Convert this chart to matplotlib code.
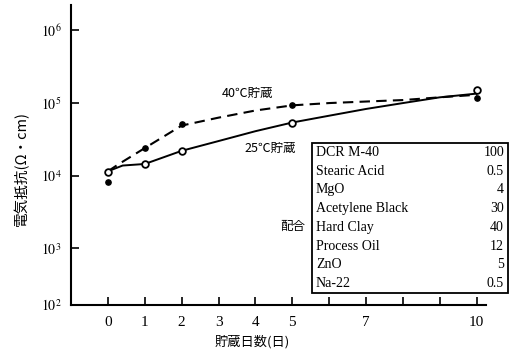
import numpy as np
import matplotlib.pyplot as plt
from matplotlib.patches import Rectangle

plt.rcParams['font.family'] = ['Liberation Serif', 'Noto Sans CJK JP']
plt.rcParams['mathtext.fontset'] = 'stix'

# measured volume resistivity (ohm*cm) vs storage days
days = [0, 1, 2, 5, 10]
rho_25 = [1.13e4, 1.45e4, 2.2e4, 5.4e4, 1.5e5]
rho_40 = [8.3e3, 2.4e4, 5.1e4, 9.3e4, 1.17e5]

# hand-drawn trend curves
trend_25_x = [0, 0.4, 1, 2, 3, 4, 5, 6, 7, 8, 9, 10]
trend_25_y = [1.15e4, 1.38e4, 1.45e4, 2.2e4, 3.0e4, 4.1e4, 5.4e4, 6.7e4, 8.3e4, 1.0e5, 1.2e5, 1.35e5]
trend_40_x = [0, 0.3, 1, 2, 3, 4, 5, 6, 7, 8, 9, 10]
trend_40_y = [1.15e4, 1.45e4, 2.4e4, 4.9e4, 6.3e4, 7.9e4, 9.3e4, 1.0e5, 1.05e5, 1.1e5, 1.2e5, 1.3e5]

# recipe (phr)
recipe_names = ['DCR M-40', 'Stearic Acid', 'MgO', 'Acetylene Black',
                'Hard Clay', 'Process Oil', 'ZnO', 'Na-22']
recipe_parts = ['100', '0.5', '4', '30', '40', '12', '5', '0.5']

x_ticks = list(range(11))
x_labels = ['0', '1', '2', '3', '4', '5', '', '7', '', '', '10']
y_ticks = [1e2, 1e3, 1e4, 1e5, 1e6]
y_labels = [r'$10^{2}$', r'$10^{3}$', r'$10^{4}$', r'$10^{5}$', r'$10^{6}$']


# log scale with the lowest decade drawn compressed, as on the printed graph
def fwd(y):
    ly = np.log10(np.clip(y, 1e-300, None))
    return np.where(ly >= 3, ly, 3 - (3 - ly) * 0.78)


def inv(t):
    t = np.asarray(t, dtype=float)
    return np.where(t >= 3, 10.0 ** t, 10.0 ** (3 - (3 - t) / 0.78))


fig = plt.figure(figsize=(5.13, 3.56), dpi=100)
ax = fig.add_axes([71 / 513, 51 / 356, 415 / 513, 300 / 356])

ax.plot(trend_25_x, trend_25_y, color='black', lw=1.4, zorder=2)
ax.plot(trend_40_x, trend_40_y, color='black', lw=1.5, ls=(0, (5, 3)), zorder=2)
ax.plot(days, rho_25, 'o', ms=4.8, mfc='white', mec='black', mew=1.3, zorder=3)
ax.plot(days, rho_40, 'o', ms=3.8, color='black', zorder=3)

ax.set_yscale('function', functions=(fwd, inv))
ax.set_xlim(-1, 10.25)
ax.set_ylim(1e2, 10 ** 6.35)
ax.set_xticks(x_ticks)
ax.set_xticklabels(x_labels, fontsize=11)
ax.set_yticks(y_ticks)
ax.set_yticklabels(y_labels, fontsize=10)
ax.yaxis.set_minor_locator(plt.NullLocator())
ax.tick_params(axis='both', direction='in', length=6, width=1.2)
ax.tick_params(axis='x', pad=8)
ax.tick_params(axis='y', pad=7)
ax.spines['top'].set_visible(False)
ax.spines['right'].set_visible(False)
ax.spines['left'].set_linewidth(1.5)
ax.spines['bottom'].set_linewidth(1.5)
ax.patch.set_alpha(0)

cjk = ['Noto Sans CJK JP', 'DejaVu Sans']
fig.text(252 / 513, 1 - 342 / 356, '貯蔵日数(日)', fontsize=9.5, family=cjk,
         ha='center', va='center')
fig.text(21 / 513, 1 - 168 / 356, '電気抵抗(Ω・cm)', rotation=90, fontsize=10.5,
         family=cjk, ha='center', va='center')

fig.text(222 / 513, 1 - 93 / 356, '40℃貯蔵', fontsize=9, family=cjk,
         ha='left', va='center')
fig.text(244 / 513, 1 - 148 / 356, '25℃貯蔵', fontsize=9, family=cjk,
         ha='left', va='center')
fig.text(280 / 513, 1 - 226 / 356, '配合', fontsize=9, family=cjk,
         ha='left', va='center')

# recipe table
tx0, ty0, tw, th = 312, 143, 196, 150
fig.patches.append(Rectangle((tx0 / 513, 1 - (ty0 + th) / 356), tw / 513, th / 356,
                             transform=fig.transFigure, fill=False,
                             edgecolor='black', lw=1.3))
row_h = th / len(recipe_names)
for i, (name, part) in enumerate(zip(recipe_names, recipe_parts)):
    yc = 1 - (ty0 + row_h * (i + 0.5)) / 356
    fig.text((tx0 + 4) / 513, yc, name, fontsize=10, ha='left', va='center')
    fig.text((tx0 + tw - 4) / 513, yc, part, fontsize=10, ha='right', va='center')

fig.savefig('out.png', dpi=100)
